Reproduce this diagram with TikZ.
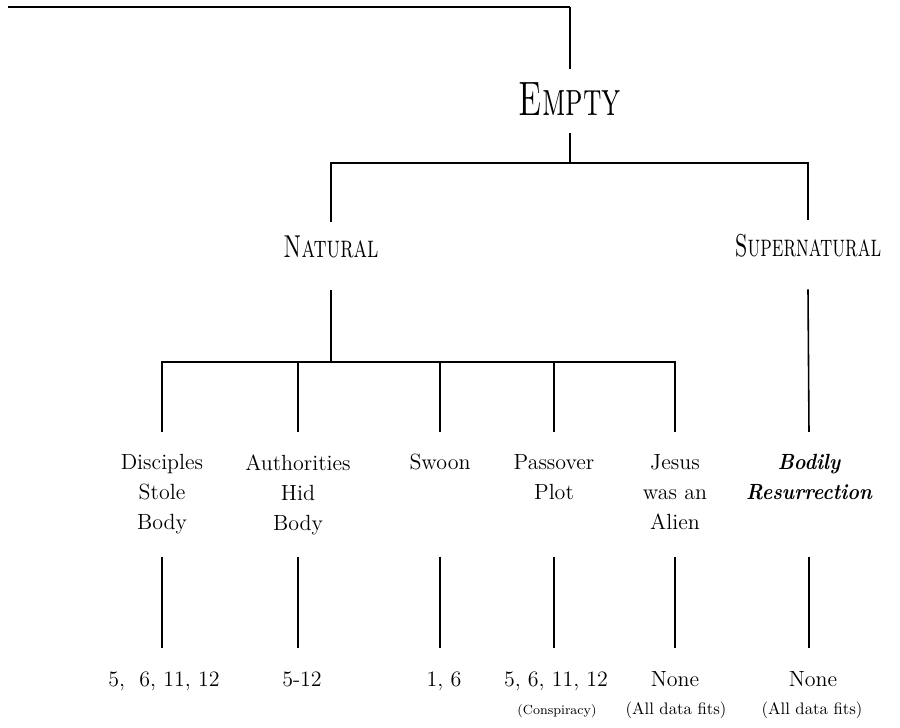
\documentclass[tikz,border=0pt]{standalone}
\usepackage{fontspec}

\begin{document}
\begin{tikzpicture}
  [
    every node/.style = {inner sep=0},
    branch/.style = {line width=0.9pt},
    root line/.style = {line width=1.5pt},
    root label/.style = {anchor=base,font=\fontsize{27.5}{30}\selectfont,xscale=0.65,text depth=0.06cm,outer ysep=0.28cm},
    kind label/.style = {anchor=base,font=\fontsize{18}{20}\selectfont,xscale=0.7,text depth=0.36cm,outer ysep=0.29cm},
    theory/.style = {anchor=north,align=center,font=\fontsize{12.5}{17.07}\selectfont,outer ysep=0.45cm},
    miracle/.style = {theory,font=\fontsize{12.5}{17.07}\selectfont\bfseries\itshape,xscale=0.9},
    data/.style = {anchor=base,font=\fontsize{12.5}{15}\selectfont,text height=0.32cm,outer ysep=0.46cm},
    remark/.style = {anchor=base,font=\fontsize{9.5}{11}\selectfont},
  ]

  \useasboundingbox (0,0) rectangle (18,-14.56);

  \coordinate (origin) at (0.16,-0.14);
  \coordinate (split)  at (11.40,-3.26);
  \coordinate (fork)   at (6.62,-7.24);

  \node[root label] (empty) at (11.40,-2.32) {\textsc{Empty}};
  \node[kind label] (nat)   at (6.62,-5.16)  {\textsc{Natural}};
  \node[kind label,xscale=0.94] (sup) at (16.16,-5.14) {\textsc{Supernatural}};

  \node[theory]  (disc)  at (3.24,-8.64)  {Disciples\\Stole\\Body};
  \node[theory]  (auth)  at (5.96,-8.64)  {Authorities\\Hid\\Body};
  \node[theory]  (swoon) at (8.80,-8.64)  {Swoon};
  \node[theory]  (plot)  at (11.08,-8.64) {Passover\\Plot};
  \node[theory]  (alien) at (13.50,-8.64) {Jesus\\was an\\Alien};
  \node[miracle] (res)   at (16.18,-8.64) {Bodily\\Resurrection};

  \node[data] (disc-data)  at (3.28,-13.74)  {5,\ \ 6, 11, 12};
  \node[data] (auth-data)  at (6.04,-13.74)  {5-12};
  \node[data] (swoon-data) at (8.88,-13.74)  {1, 6};
  \node[data] (plot-data)  at (11.12,-13.74) {5, 6, 11, 12};
  \node[data] (alien-data) at (13.50,-13.74) {None};
  \node[data] (res-data)   at (16.26,-13.74) {None};

  \node[remark,font=\fontsize{7.5}{9}\selectfont] (plot-note) at (11.14,-14.30) {(Conspiracy)};
  \node[remark] (alien-note) at (13.52,-14.30) {(All data fits)};
  \node[remark] (res-note)   at (16.24,-14.30) {(All data fits)};

  \draw[root line] (origin) -- (origin -| empty.north);
  \draw[branch] (origin -| empty.north) -- (empty.north);
  \draw[branch] (empty.south) -- (split);
  \draw[branch] (nat.north) |- (split) -| (sup.north);
  \draw[branch] (nat.south) -- (fork);
  \draw[branch] (disc.north) |- (fork) -| (alien.north);
  \foreach \t in {auth,swoon,plot}
    \draw[branch] (\t.north) -- (\t.north |- fork);
  \draw[branch] (sup.south) -- (res.north);
  \foreach \t in {disc,auth,swoon,plot,alien,res}
    \draw[branch] (\t.south |- disc.south) -- (\t.south |- \t-data.north);

\end{tikzpicture}
\end{document}
